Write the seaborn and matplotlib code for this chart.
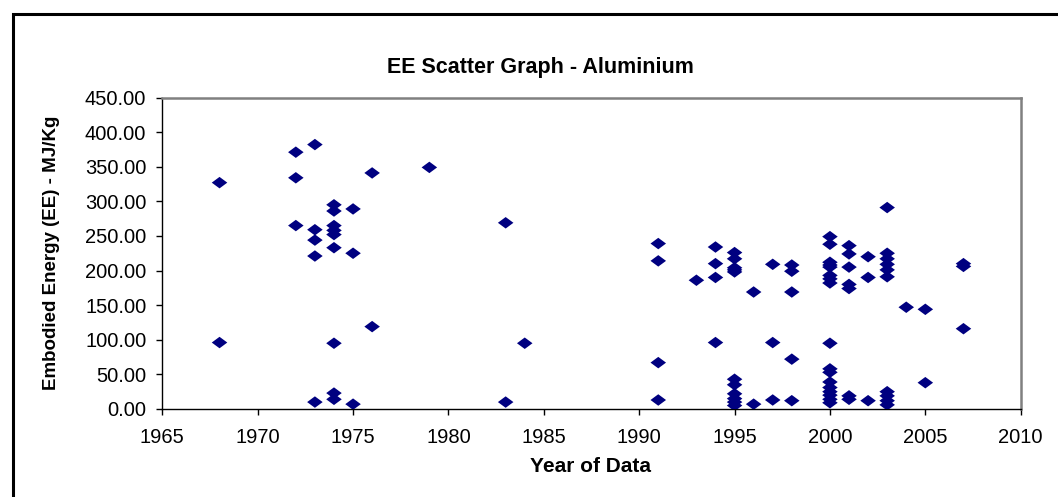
import matplotlib
matplotlib.use("Agg")
import matplotlib.pyplot as plt
from matplotlib.path import Path
from matplotlib.patches import Rectangle
from matplotlib.ticker import FuncFormatter
import seaborn as sns
import pandas as pd

# ---- data ----
years = (
    [1968] * 2 + [1972] * 3 + [1973] * 5 + [1974] * 9 + [1975] * 3 + [1976] * 2 +
    [1979] + [1983] * 2 + [1984] + [1991] * 4 + [1993] + [1994] * 4 +
    [1995] * 11 + [1996] * 2 + [1997] * 3 + [1998] * 5 + [2000] * 17 +
    [2001] * 7 + [2002] * 3 + [2003] * 10 + [2004] + [2005] * 2 + [2007] * 3
)
ee_values = (
    [327, 96] +
    [371, 334, 265] +
    [382, 259, 244, 221, 10] +
    [295, 286, 265, 258, 252, 233, 95, 23, 14] +
    [289, 225, 7] +
    [341, 119] +
    [349] +
    [269, 10] +
    [95] +
    [239, 214, 67, 13] +
    [186] +
    [234, 210, 190, 96] +
    [226, 217, 204, 201, 198, 43, 35, 22, 15, 10, 5] +
    [169, 7] +
    [209, 96, 13] +
    [208, 199, 169, 72, 12] +
    [249, 238, 212, 208, 205, 193, 188, 182, 95, 58, 53, 39, 31, 25, 20, 14, 9] +
    [236, 224, 205, 180, 174, 19, 14] +
    [220, 190, 12] +
    [291, 225, 217, 209, 201, 191, 25, 19, 12, 6] +
    [147] +
    [144, 38] +
    [210, 206, 116]
)
x_ticks = [1965, 1970, 1975, 1980, 1985, 1990, 1995, 2000, 2005, 2010]
y_ticks = [0, 50, 100, 150, 200, 250, 300, 350, 400, 450]

title = "EE Scatter Graph - Aluminium"
x_label = "Year of Data"
y_label = "Embodied Energy (EE) - MJ/Kg"

df = pd.DataFrame({"year": years, "ee": ee_values})

sns.set_theme(style="white")
plt.rcParams["font.family"] = ["Liberation Sans", "DejaVu Sans"]

W, H = 1058, 497
fig = plt.figure(figsize=(W / 100, H / 100), dpi=100)
fig.patch.set_facecolor("white")

# outer chart border (extends past the right/bottom image edges)
fig.patches.append(Rectangle((13 / W, -0.1), 1.2, 1.1 - 14 / H,
                             transform=fig.transFigure, fill=False,
                             edgecolor="black", linewidth=2.2, zorder=0))

ax = fig.add_axes([162.3 / W, 1 - 409 / H, (1020.7 - 162.3) / W, (409 - 97.5) / H])

diamond = Path([(-1, 0), (0, 0.74), (1, 0), (0, -0.74), (-1, 0)],
               [Path.MOVETO, Path.LINETO, Path.LINETO, Path.LINETO, Path.CLOSEPOLY])

sns.scatterplot(data=df, x="year", y="ee", ax=ax, marker=diamond, s=125,
                color="#000080", edgecolor="none", linewidth=0, zorder=3, legend=False)

ax.set_xlim(1965, 2010)
ax.set_ylim(0, 450)
ax.set_xticks(x_ticks)
ax.set_yticks(y_ticks)
ax.yaxis.set_major_formatter(FuncFormatter(lambda v, p: f"{v:.2f}"))
ax.set_xlabel("")
ax.set_ylabel("")
ax.grid(False)

for side in ["top", "right"]:
    ax.spines[side].set_color("#808080")
    ax.spines[side].set_linewidth(1.8)
for side in ["left", "bottom"]:
    ax.spines[side].set_color("#000000")
    ax.spines[side].set_linewidth(1.0)

ax.tick_params(axis="both", which="major", direction="out", length=4.5, width=1.0,
               color="black", labelsize=14.5, labelcolor="black")
ax.tick_params(axis="y", pad=7, left=True)
ax.tick_params(axis="x", pad=9, bottom=True)

fig.text(540 / W, 1 - 68 / H, title, ha="center", va="center",
         fontsize=15.5, fontweight="bold", color="black")
fig.text(591 / W, 1 - 466 / H, x_label, ha="center", va="center",
         fontsize=15, fontweight="bold", color="black")
fig.text(52 / W, 1 - 253 / H, y_label, ha="center", va="center", rotation=90,
         fontsize=13.5, fontweight="bold", color="black")

fig.savefig("out.png", dpi=100)
